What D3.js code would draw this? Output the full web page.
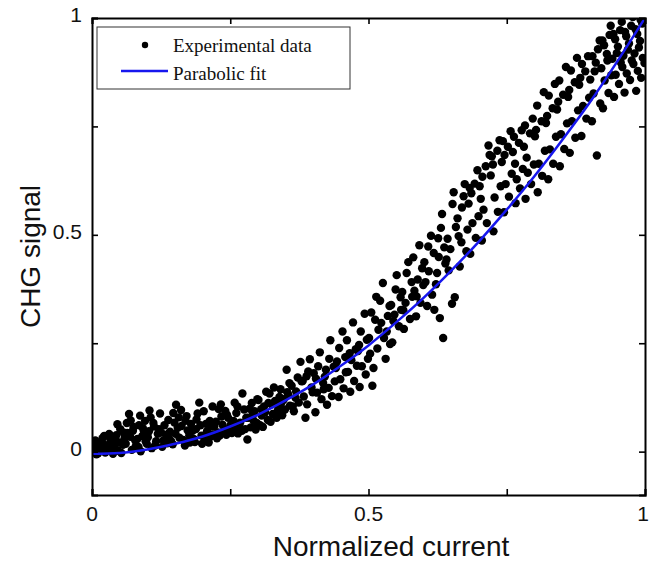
<!DOCTYPE html>
<html lang="en">
<head>
  <meta charset="UTF-8">
  <title>CHG signal vs normalized current</title>
  <script src="https://d3js.org/d3.v7.min.js"></script>
  <style>
    body {
      margin: 0;
      background: #fff;
    }
    svg {
      display: block;
    }
    .tick-label {
      font-family: "Liberation Sans", Arial, sans-serif;
      font-size: 21px;
      fill: #111;
    }
    .axis-title {
      font-family: "Liberation Sans", Arial, sans-serif;
      font-size: 28px;
      fill: #111;
    }
    .legend-text {
      font-family: "Liberation Serif", "Times New Roman", serif;
      font-size: 19px;
      fill: #111;
    }
  </style>
</head>
<body>
  <svg width="649" height="563"></svg>

  <script>
    // experimental data: [normalized current, CHG signal]
    const experimental = [
      [0.003,0.012],[0.011,-0.004],[0.006,0.026],[0.017,0.006],[0.001,0.002],[0.014,0.019],[0.008,-0.006],[0.019,0.031],[0.005,0.009],[0.013,0.0],[0.018,0.014],
      [0.024,-0.002],[0.036,0.022],[0.021,0.017],[0.031,0.041],[0.027,0.004],[0.039,0.011],[0.033,0.029],[0.022,0.036],[0.038,-0.005],[0.029,0.015],
      [0.047,0.002],[0.042,0.027],[0.056,0.016],[0.051,0.052],[0.044,0.038],[0.059,0.031],[0.053,-0.003],[0.049,0.021],[0.041,0.009],[0.057,0.044],[0.046,0.063],
      [0.072,0.004],[0.064,0.043],[0.078,0.026],[0.067,0.087],[0.061,0.018],[0.075,0.057],[0.069,0.034],[0.079,0.012],[0.063,0.066],[0.074,0.048],[0.070,0.072],
      [0.088,0.001],[0.082,0.029],[0.094,0.047],[0.085,0.061],[0.099,0.018],[0.091,0.036],[0.096,0.071],[0.084,0.011],[0.092,0.054],[0.097,0.024],[0.087,0.083],
      [0.108,0.008],[0.103,0.047],[0.116,0.024],[0.111,0.066],[0.101,0.033],[0.119,0.041],[0.106,0.079],[0.114,0.014],[0.112,0.058],[0.104,0.095],
      [0.127,0.011],[0.134,0.039],[0.121,0.052],[0.138,0.073],[0.129,0.026],[0.123,0.088],[0.136,0.019],[0.131,0.061],[0.125,0.044],[0.139,0.031],
      [0.146,0.017],[0.152,0.108],[0.141,0.046],[0.158,0.032],[0.149,0.067],[0.155,0.055],[0.143,0.024],[0.157,0.079],[0.151,0.041],[0.147,0.089],
      [0.168,0.014],[0.162,0.059],[0.176,0.038],[0.171,0.082],[0.165,0.027],[0.179,0.064],[0.173,0.049],[0.161,0.096],[0.177,0.021],[0.169,0.071],
      [0.186,0.022],[0.194,0.113],[0.182,0.048],[0.198,0.037],[0.189,0.074],[0.184,0.029],[0.196,0.061],[0.191,0.088],[0.188,0.052],[0.199,0.018],
      [0.204,0.028],[0.213,0.071],[0.208,0.047],[0.219,0.039],[0.202,0.093],[0.216,0.058],[0.211,0.021],[0.206,0.064],[0.218,0.104],[0.214,0.034],
      [0.226,0.031],[0.234,0.081],[0.221,0.058],[0.238,0.047],[0.229,0.098],[0.231,0.037],[0.224,0.069],[0.236,0.062],[0.233,0.109],[0.228,0.044],
      [0.243,0.039],[0.256,0.071],[0.249,0.056],[0.241,0.094],[0.253,0.043],[0.258,0.113],[0.246,0.078],[0.251,0.062],[0.259,0.051],[0.244,0.085],
      [0.264,0.042],[0.272,0.134],[0.268,0.067],[0.277,0.052],[0.261,0.089],[0.275,0.097],[0.266,0.058],[0.279,0.078],[0.271,0.048],[0.263,0.104],
      [0.281,0.028],[0.287,0.056],[0.294,0.093],[0.283,0.078],[0.298,0.066],[0.289,0.112],[0.296,0.051],[0.285,0.099],[0.292,0.072],[0.299,0.121],[0.291,0.085],
      [0.304,0.061],[0.311,0.104],[0.307,0.083],[0.318,0.073],[0.301,0.119],[0.315,0.138],[0.309,0.057],[0.313,0.091],[0.306,0.098],[0.319,0.112],
      [0.323,0.069],[0.331,0.117],[0.327,0.087],[0.338,0.103],[0.321,0.134],[0.334,0.078],[0.329,0.148],[0.336,0.095],[0.325,0.109],[0.339,0.126],
      [0.344,0.084],[0.352,0.189],[0.347,0.121],[0.358,0.106],[0.341,0.144],[0.355,0.131],[0.349,0.097],[0.357,0.158],[0.343,0.114],[0.353,0.137],
      [0.365,0.093],[0.372,0.171],[0.368,0.124],[0.377,0.207],[0.361,0.152],[0.374,0.113],[0.369,0.139],[0.379,0.162],[0.363,0.104],
      [0.386,0.078],[0.391,0.185],[0.383,0.127],[0.397,0.148],[0.389,0.109],[0.394,0.213],[0.381,0.163],[0.399,0.137],[0.388,0.174],
      [0.404,0.091],[0.412,0.229],[0.407,0.136],[0.418,0.158],[0.401,0.181],[0.415,0.121],[0.409,0.197],[0.419,0.144],[0.405,0.168],
      [0.425,0.108],[0.431,0.257],[0.428,0.147],[0.437,0.196],[0.421,0.173],[0.434,0.128],[0.429,0.214],[0.439,0.162],[0.423,0.189],
      [0.446,0.126],[0.453,0.277],[0.449,0.167],[0.458,0.218],[0.441,0.193],[0.455,0.146],[0.447,0.239],[0.459,0.183],[0.443,0.208],
      [0.467,0.138],[0.472,0.298],[0.463,0.184],[0.477,0.236],[0.469,0.211],[0.474,0.163],[0.461,0.257],[0.479,0.198],[0.466,0.227],
      [0.484,0.149],[0.493,0.318],[0.488,0.197],[0.497,0.258],[0.481,0.232],[0.495,0.178],[0.486,0.277],[0.499,0.214],[0.483,0.246],
      [0.507,0.152],[0.514,0.357],[0.503,0.226],[0.518,0.281],[0.509,0.193],[0.512,0.304],[0.501,0.262],[0.516,0.238],[0.505,0.321],
      [0.526,0.389],[0.531,0.214],[0.523,0.297],[0.538,0.336],[0.528,0.262],[0.535,0.313],[0.521,0.348],[0.533,0.277],[0.539,0.248],
      [0.543,0.252],[0.551,0.407],[0.547,0.316],[0.558,0.356],[0.541,0.338],[0.555,0.289],[0.549,0.374],[0.559,0.327],[0.545,0.301],
      [0.564,0.283],[0.572,0.437],[0.567,0.343],[0.578,0.391],[0.561,0.368],[0.575,0.306],[0.569,0.412],[0.579,0.357],[0.563,0.326],
      [0.586,0.312],[0.592,0.476],[0.583,0.371],[0.597,0.423],[0.589,0.397],[0.594,0.343],[0.581,0.448],[0.599,0.384],[0.587,0.358],
      [0.606,0.336],[0.613,0.498],[0.603,0.391],[0.618,0.458],[0.609,0.416],[0.615,0.362],[0.601,0.437],[0.619,0.327],[0.608,0.473],
      [0.624,0.412],[0.631,0.516],[0.627,0.449],[0.635,0.262],[0.629,0.308],[0.637,0.471],[0.622,0.386],[0.633,0.548],[0.639,0.434],[0.626,0.492],
      [0.645,0.418],[0.652,0.571],[0.648,0.467],[0.656,0.356],[0.651,0.341],[0.658,0.518],[0.643,0.491],[0.654,0.598],[0.641,0.443],
      [0.665,0.427],[0.672,0.589],[0.668,0.483],[0.674,0.617],[0.661,0.538],[0.677,0.462],[0.669,0.563],[0.679,0.512],[0.663,0.497],
      [0.684,0.456],[0.692,0.618],[0.688,0.527],[0.697,0.649],[0.681,0.572],[0.694,0.493],[0.686,0.596],[0.699,0.543],[0.683,0.608],
      [0.705,0.487],[0.712,0.658],[0.708,0.558],[0.717,0.706],[0.701,0.612],[0.714,0.527],[0.706,0.634],[0.719,0.684],[0.703,0.583],
      [0.726,0.508],[0.733,0.694],[0.728,0.586],[0.737,0.718],[0.721,0.637],[0.734,0.553],[0.725,0.662],[0.739,0.612],[0.723,0.681],
      [0.745,0.552],[0.752,0.703],[0.748,0.617],[0.757,0.739],[0.741,0.668],[0.754,0.588],[0.746,0.684],[0.759,0.641],[0.743,0.716],
      [0.766,0.573],[0.772,0.712],[0.768,0.628],[0.777,0.741],[0.761,0.691],[0.774,0.607],[0.765,0.664],[0.779,0.652],[0.763,0.726],
      [0.784,0.583],[0.792,0.734],[0.788,0.643],[0.797,0.768],[0.781,0.703],[0.794,0.617],[0.786,0.678],[0.799,0.662],[0.783,0.752],
      [0.806,0.598],[0.813,0.762],[0.808,0.664],[0.817,0.829],[0.801,0.727],[0.814,0.636],[0.805,0.798],[0.819,0.694],[0.803,0.742],
      [0.825,0.628],[0.833,0.792],[0.828,0.697],[0.837,0.848],[0.821,0.758],[0.834,0.664],[0.826,0.821],[0.839,0.726],[0.823,0.774],
      [0.846,0.658],[0.852,0.823],[0.848,0.732],[0.857,0.887],[0.841,0.789],[0.854,0.698],[0.845,0.856],[0.859,0.757],[0.843,0.807],
      [0.864,0.689],[0.873,0.852],[0.868,0.762],[0.877,0.908],[0.861,0.818],[0.874,0.724],[0.866,0.879],[0.879,0.787],[0.863,0.834],
      [0.885,0.728],[0.892,0.877],[0.888,0.797],[0.897,0.912],[0.881,0.846],[0.894,0.768],[0.886,0.894],[0.899,0.816],[0.883,0.862],
      [0.904,0.762],[0.911,0.897],[0.907,0.826],[0.913,0.683],[0.918,0.948],[0.901,0.858],[0.915,0.928],[0.909,0.877],[0.919,0.803],[0.905,0.912],
      [0.924,0.792],[0.931,0.917],[0.927,0.856],[0.936,0.961],[0.921,0.884],[0.934,0.827],[0.938,0.982],[0.926,0.937],[0.939,0.868],[0.932,0.902],[0.923,0.948],
      [0.944,0.818],[0.951,0.934],[0.947,0.869],[0.955,0.972],[0.941,0.906],[0.953,0.848],[0.958,0.991],[0.946,0.951],[0.959,0.887],[0.949,0.919],[0.943,0.963],[0.956,0.898],
      [0.963,0.828],[0.971,0.941],[0.967,0.872],[0.975,0.982],[0.961,0.913],[0.973,0.857],[0.978,1.002],[0.966,0.958],[0.979,0.894],[0.969,0.927],[0.964,0.968],[0.976,0.902],
      [0.984,0.832],[0.991,0.947],[0.987,0.878],[0.995,0.987],[0.981,0.918],[0.993,0.862],[0.998,1.004],[0.986,0.963],[0.999,0.896],[0.989,0.932],[0.983,0.974],[0.996,0.908],[0.992,0.996]
    ];

    // parabolic fit
    const fitCurrent = [0, 0.05, 0.1, 0.15, 0.2, 0.25, 0.3, 0.35, 0.4, 0.45, 0.5,
                        0.55, 0.6, 0.65, 0.7, 0.75, 0.8, 0.85, 0.9, 0.95, 1];
    const fitSignal = [-0.005, -0.003, 0.005, 0.018, 0.035, 0.058, 0.085, 0.118, 0.155, 0.198, 0.245,
                       0.298, 0.355, 0.418, 0.485, 0.558, 0.635, 0.718, 0.805, 0.9, 1.0];

    const tickValues = [0, 0.25, 0.5, 0.75, 1];
    const labelledTicks = [0, 0.5, 1];

    const legendLabels = ["Experimental data", "Parabolic fit"];

    const plotLeft = 92, plotRight = 645, plotTop = 18, plotBottom = 495;
    const fitColor = "#1717ee";

    const svg = d3.select("svg");

    const x = d3.scaleLinear().domain([0, 1]).range([plotLeft, plotRight]);
    const y = d3.scaleLinear().domain([-0.1, 1]).range([plotBottom, plotTop]);

    svg.append("clipPath")
      .attr("id", "plot-clip")
      .append("rect")
      .attr("x", plotLeft)
      .attr("y", plotTop)
      .attr("width", plotRight - plotLeft)
      .attr("height", plotBottom - plotTop);

    const plot = svg.append("g").attr("clip-path", "url(#plot-clip)");

    plot.selectAll("circle")
      .data(experimental)
      .join("circle")
      .attr("cx", d => x(d[0]))
      .attr("cy", d => y(d[1]))
      .attr("r", 4.2)
      .attr("fill", "#000");

    const line = d3.line()
      .x(d => x(d[0]))
      .y(d => y(d[1]))
      .curve(d3.curveMonotoneX);

    plot.append("path")
      .datum(fitCurrent.map((c, i) => [c, fitSignal[i]]))
      .attr("d", line)
      .attr("fill", "none")
      .attr("stroke", fitColor)
      .attr("stroke-width", 2.5);

    // frame with inward ticks on all four sides
    const tickFmt = d => labelledTicks.includes(d) ? d3.format("")(d) : "";
    const frame = [
      d3.axisBottom(x).tickValues(tickValues).tickSize(-6).tickFormat(""),
      d3.axisTop(x).tickValues(tickValues).tickSize(-6).tickFormat(""),
      d3.axisLeft(y).tickValues(tickValues).tickSize(-6).tickFormat(""),
      d3.axisRight(y).tickValues(tickValues).tickSize(-6).tickFormat("")
    ];
    const offsets = [
      `translate(0,${plotBottom})`, `translate(0,${plotTop})`,
      `translate(${plotLeft},0)`, `translate(${plotRight},0)`
    ];
    frame.forEach((ax, i) => {
      const g = svg.append("g").attr("transform", offsets[i]).call(ax);
      g.select(".domain").attr("stroke", "#000").attr("stroke-width", 2);
      g.selectAll(".tick line").attr("stroke", "#000").attr("stroke-width", 1.6);
    });

    // tick labels (the last x label would run off the page edge, so it is end-anchored)
    svg.append("g").selectAll("text")
      .data(labelledTicks)
      .join("text")
      .attr("class", "tick-label")
      .attr("x", d => d === 1 ? 649 : x(d))
      .attr("y", 521)
      .attr("text-anchor", d => d === 1 ? "end" : "middle")
      .text(tickFmt);

    svg.append("g").selectAll("text")
      .data(labelledTicks)
      .join("text")
      .attr("class", "tick-label")
      .attr("x", 82)
      .attr("y", d => y(d) - 2)
      .attr("dy", "0.3em")
      .attr("text-anchor", "end")
      .text(tickFmt);

    // axis titles
    svg.append("text")
      .attr("class", "axis-title")
      .attr("x", 391)
      .attr("y", 556)
      .attr("text-anchor", "middle")
      .text("Normalized current");

    svg.append("text")
      .attr("class", "axis-title")
      .attr("transform", `translate(40,${(plotTop + plotBottom) / 2}) rotate(-90)`)
      .attr("text-anchor", "middle")
      .text("CHG signal");

    // legend
    const legend = svg.append("g");
    legend.append("rect")
      .attr("x", 97).attr("y", 27)
      .attr("width", 253).attr("height", 62)
      .attr("fill", "#fff")
      .attr("stroke", "#333")
      .attr("stroke-width", 1);

    legend.append("circle")
      .attr("cx", 145).attr("cy", 45).attr("r", 3.2).attr("fill", "#000");

    legend.append("line")
      .attr("x1", 121).attr("x2", 168)
      .attr("y1", 71).attr("y2", 71)
      .attr("stroke", fitColor).attr("stroke-width", 2.5);

    legend.selectAll("text")
      .data(legendLabels)
      .join("text")
      .attr("class", "legend-text")
      .attr("x", 173)
      .attr("y", (d, i) => 52 + i * 28)
      .text(d => d);
  </script>
</body>
</html>
